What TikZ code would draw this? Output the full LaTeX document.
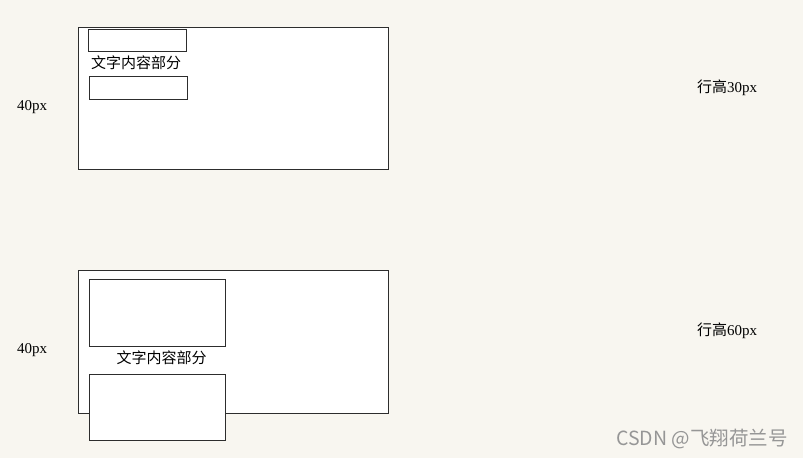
\documentclass[tikz,border=0pt]{standalone}
\usepackage{fontspec}
\setmainfont{Liberation Serif}
\newfontfamily\cjk{Noto Sans CJK SC}
\usepackage{tikz}

\definecolor{bgcream}{RGB}{248,246,240}
\definecolor{boxline}{RGB}{45,45,45}
\definecolor{markgray}{RGB}{150,150,150}

\begin{document}
\begin{tikzpicture}[x=1pt, y=-1pt,
        box/.style={shape=rectangle, draw=boxline, line width=1.1pt, fill=white, inner sep=0pt, anchor=north west},
        lbl/.style={inner sep=0pt, font=\fontsize{15}{18}\selectfont}]
    \fill[bgcream] (0,0) rectangle (803,458);
    \useasboundingbox (0,0) rectangle (803,458);
    % upper case: line height 30px
    \node[box, minimum width=310pt, minimum height=142pt] (O1) at (78,27) {};
    \node[box, minimum width=98pt, minimum height=22pt] (T1) at (87.5,28.5) {};
    \node[lbl] (C1) at (136,63) {\cjk 文字内容部分};
    \node[box, minimum width=98pt, minimum height=22.5pt] (B1) at (88.5,76) {};
    \node[lbl] (H1) at (32,107) {40px};
    \node[lbl] (L1) at (727,88) {\cjk 行高\rmfamily 30px};
    % lower case: line height 60px
    \node[box, minimum width=310pt, minimum height=143pt] (O2) at (78,269.5) {};
    \node[box, minimum width=136.5pt, minimum height=66.5pt] (T2) at (88.5,279) {};
    \node[lbl] (C2) at (161.5,358) {\cjk 文字内容部分};
    \node[box, minimum width=136.5pt, minimum height=66.5pt] (B2) at (88.5,373.5) {};
    \node[lbl] (H2) at (32,350) {40px};
    \node[lbl] (L2) at (727,331) {\cjk 行高\rmfamily 60px};
    % watermark
    \node[inner sep=0pt, text=markgray, font=\cjk\fontsize{19.5}{21}\selectfont] (W) at (702,439) {CSDN @飞翔荷兰号};
\end{tikzpicture}
\end{document}
